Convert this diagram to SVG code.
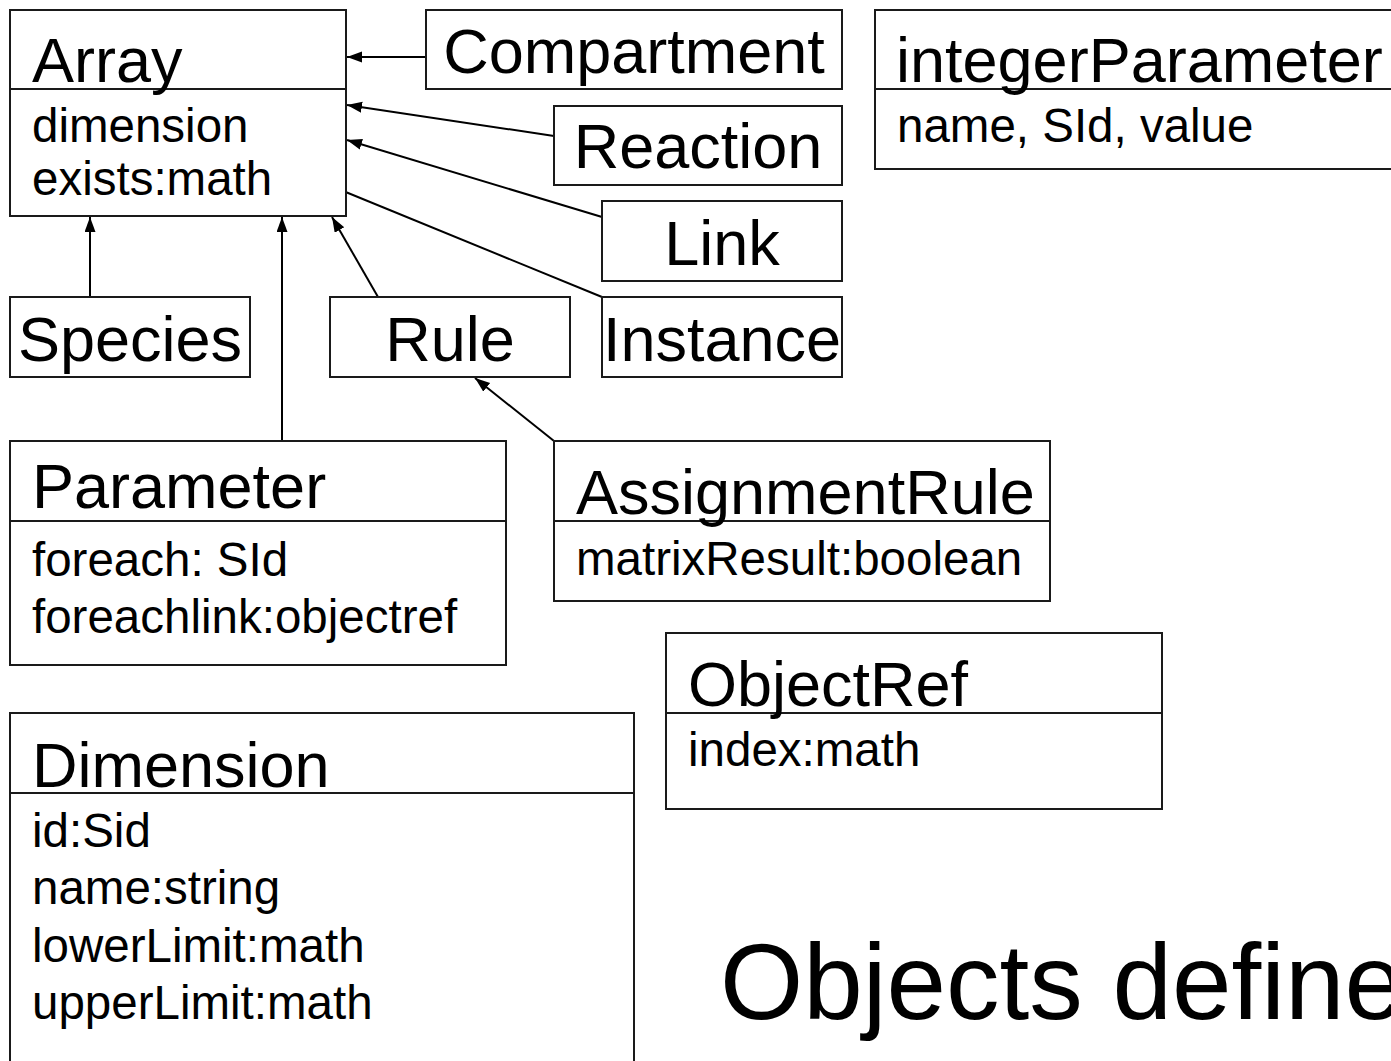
<svg xmlns="http://www.w3.org/2000/svg" width="1391" height="1061" viewBox="0 0 1391 1061">
<style>
.box{fill:#fff;stroke:#1a1a1a;stroke-width:2}
.div{stroke:#1a1a1a;stroke-width:2}
.t{font-family:"Liberation Sans",Arial,sans-serif;font-size:63px;fill:#000}
.a{font-family:"Liberation Sans",Arial,sans-serif;font-size:47.5px;fill:#000}
.c{text-anchor:middle}
.ln{stroke:#000;stroke-width:2;fill:none;marker-end:url(#arr)}
</style>
<defs>
<marker id="arr" markerUnits="userSpaceOnUse" markerWidth="16" markerHeight="12" refX="15" refY="5.5" orient="auto">
<path d="M0,0 L15,5.5 L0,11 z" fill="#000"/>
</marker>
</defs>
<rect width="1391" height="1061" fill="#fff"/>
<g id="connectors">
<path class="ln" d="M426,57 L347,57"/>
<path class="ln" d="M554,136 L347,105"/>
<path class="ln" d="M602,217 L347,140"/>
<path class="ln" d="M602,297 L331,186"/>
<path class="ln" d="M378,297 L332,217"/>
<path class="ln" d="M90,297 L90,217"/>
<path class="ln" d="M282,441 L282,217"/>
<path class="ln" d="M554,441 L475,378"/>
</g>
<g id="Array">
<rect class="box" x="10" y="10" width="336" height="206"/>
<line class="div" x1="10" y1="89" x2="346" y2="89"/>
<text class="t" x="32" y="82">Array</text>
<text class="a" x="32" y="142">dimension</text>
<text class="a" x="32" y="195">exists:math</text>
</g>
<g id="Compartment">
<rect class="box" x="426" y="10" width="416" height="79"/>
<text class="t c" x="634" y="73">Compartment</text>
</g>
<g id="Reaction">
<rect class="box" x="554" y="106" width="288" height="79"/>
<text class="t c" x="698" y="168">Reaction</text>
</g>
<g id="Link">
<rect class="box" x="602" y="201" width="240" height="80"/>
<text class="t c" x="722" y="265">Link</text>
</g>
<g id="Instance">
<rect class="box" x="602" y="297" width="240" height="80"/>
<text class="t c" x="722" y="361">Instance</text>
</g>
<g id="Species">
<rect class="box" x="10" y="297" width="240" height="80"/>
<text class="t c" x="130" y="361">Species</text>
</g>
<g id="Rule">
<rect class="box" x="330" y="297" width="240" height="80"/>
<text class="t c" x="450" y="361">Rule</text>
</g>
<g id="integerParameter">
<rect class="box" x="875" y="10" width="530" height="159"/>
<line class="div" x1="875" y1="89" x2="1391" y2="89"/>
<text class="t" x="896" y="82">integerParameter</text>
<text class="a" x="897" y="142">name, SId, value</text>
</g>
<g id="Parameter">
<rect class="box" x="10" y="441" width="496" height="224"/>
<line class="div" x1="10" y1="521" x2="506" y2="521"/>
<text class="t" x="32" y="508">Parameter</text>
<text class="a" x="32" y="576">foreach: SId</text>
<text class="a" x="32" y="633">foreachlink:objectref</text>
</g>
<g id="AssignmentRule">
<rect class="box" x="554" y="441" width="496" height="160"/>
<line class="div" x1="554" y1="521" x2="1050" y2="521"/>
<text class="t" x="576" y="514">AssignmentRule</text>
<text class="a" x="576" y="575">matrixResult:boolean</text>
</g>
<g id="ObjectRef">
<rect class="box" x="666" y="633" width="496" height="176"/>
<line class="div" x1="666" y1="713" x2="1162" y2="713"/>
<text class="t" x="688" y="706">ObjectRef</text>
<text class="a" x="688" y="766">index:math</text>
</g>
<g id="Dimension">
<rect class="box" x="10" y="713" width="624" height="360"/>
<line class="div" x1="10" y1="793" x2="634" y2="793"/>
<text class="t" x="32" y="787">Dimension</text>
<text class="a" x="32" y="847">id:Sid</text>
<text class="a" x="32" y="904">name:string</text>
<text class="a" x="32" y="962">lowerLimit:math</text>
<text class="a" x="32" y="1019">upperLimit:math</text>
</g>
<text x="720" y="1019" font-family="Liberation Sans, Arial, sans-serif" font-size="107">Objects define</text>
</svg>
